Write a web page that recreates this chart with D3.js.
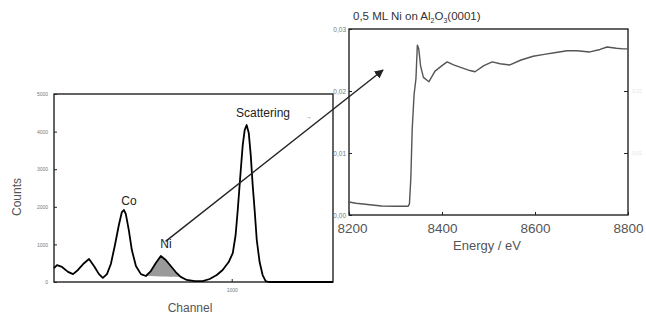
<!DOCTYPE html>
<html><head><meta charset="utf-8">
<script src="https://cdn.jsdelivr.net/npm/d3@7"></script>
<style>body{margin:0;background:#fff}svg{display:block}text{font-family:"Liberation Sans",Arial,sans-serif}</style>
</head><body><svg id="c" width="646" height="320"></svg>
<script>
// Left: PIXE/fluorescence spectrum (Channel vs Counts)
const channel = [0,17,45,79,107,135,169,197,225,253,275,298,320,343,365,382,393,404,421,438,461,489,517,545,573,601,629,657,685,713,747,792,837,876,916,949,983,1006,1022,1034,1051,1062,1073,1084,1096,1107,1118,1129,1141,1157,1174,1191,1208,1300,1400,1570];
const counts  = [370,450,400,270,210,320,500,610,425,210,110,210,480,985,1515,1860,1915,1810,1380,850,425,210,160,290,505,690,585,425,265,135,55,25,25,80,185,320,530,770,1250,1915,2980,3640,4040,4175,3960,3380,2580,1915,1117,530,185,25,0,0,0,0];
const niStart = 517, niEnd = 713;
const leftYTicks = [0,1000,2000,3000,4000,5000];
const leftXTicks = [1000];
// Right: XANES spectrum
const energy = [8200,8215,8240,8270,8300,8327,8330,8333,8336,8340,8344,8347,8350,8354,8360,8372,8385,8400,8411,8425,8440,8460,8471,8490,8508,8525,8546,8570,8596,8620,8645,8669,8690,8718,8740,8755,8775,8790,8800];
const absorb = [0.0021,0.0019,0.0017,0.00145,0.0014,0.0014,0.0018,0.006,0.014,0.0195,0.022,0.0274,0.0268,0.024,0.0222,0.0215,0.0232,0.0241,0.0247,0.0242,0.0238,0.0233,0.0231,0.0241,0.0247,0.0244,0.0242,0.025,0.0256,0.0259,0.0262,0.0265,0.0265,0.0263,0.0267,0.0271,0.0269,0.0268,0.0268];
const rightYTicks = [0,0.01,0.02,0.03];
const rightXTicks = [8200,8400,8600,8800];

const svg = d3.select("#c");
svg.append("rect").attr("width",646).attr("height",320).attr("fill","#fff");

// ----- Left chart -----
const lx = d3.scaleLinear().domain([0,1570]).range([54,333]);
const ly = d3.scaleLinear().domain([0,5000]).range([282,94]);
const L = svg.append("g");
// Ni shaded area
const niIdx = channel.map((c,i)=>i).filter(i=>channel[i]>=niStart && channel[i]<=niEnd);
const baseAt = c => 160 + (135-160)*(c-niStart)/(niEnd-niStart);
L.append("path")
  .datum(niIdx)
  .attr("d", d3.area().x(i=>lx(channel[i])).y0(i=>ly(baseAt(channel[i]))).y1(i=>ly(counts[i])))
  .attr("fill","#9a9a9a");
L.append("rect").attr("x",54).attr("y",94).attr("width",279).attr("height",188)
  .attr("fill","none").attr("stroke","#111").attr("stroke-width",1.3);
L.append("path").datum(channel.map((c,i)=>[c,counts[i]]))
  .attr("d", d3.line().x(d=>lx(d[0])).y(d=>ly(d[1])))
  .attr("fill","none").attr("stroke","#000").attr("stroke-width",1.8).attr("stroke-linejoin","round");
// y axis ticks
const lyAxis = d3.axisLeft(ly).tickValues(leftYTicks).tickSize(-3).tickPadding(6).tickFormat(d3.format("d"));
const gly = L.append("g").attr("transform","translate(54,0)").call(lyAxis);
gly.select(".domain").remove();
gly.selectAll("line").attr("stroke","#222");
gly.selectAll("text").attr("font-size",5).attr("fill","#777");
const lxAxis = d3.axisBottom(lx).tickValues(leftXTicks).tickSize(-3).tickPadding(6).tickFormat(d3.format("d"));
const glx = L.append("g").attr("transform","translate(0,282)").call(lxAxis);
glx.select(".domain").remove();
glx.selectAll("line").attr("stroke","#222");
glx.selectAll("text").attr("font-size",5).attr("fill","#777");
L.append("text").attr("transform","translate(21,197) rotate(-90)").attr("text-anchor","middle")
  .attr("font-size",12).attr("fill","#555").text("Counts");
L.append("text").attr("x",190).attr("y",312).attr("text-anchor","middle")
  .attr("font-size",12).attr("fill","#555").text("Channel");
L.append("text").attr("x",129).attr("y",205).attr("text-anchor","middle").attr("font-size",12).attr("fill","#222").text("Co");
L.append("text").attr("x",166).attr("y",248).attr("text-anchor","middle").attr("font-size",12).attr("fill","#222").text("Ni");
L.append("text").attr("x",236).attr("y",117).attr("font-size",12).attr("fill","#222").text("Scattering");
L.append("text").attr("x",306).attr("y",119).attr("font-size",6).attr("fill","#555").text("→");

// ----- Right chart -----
const rx = d3.scaleLinear().domain([8200,8800]).range([349,628]);
const ry = d3.scaleLinear().domain([0,0.03]).range([215,29]);
const R = svg.append("g");
R.append("rect").attr("x",349).attr("y",29).attr("width",279).attr("height",186)
  .attr("fill","none").attr("stroke","#111").attr("stroke-width",1.3);
R.append("path").datum(energy.map((e,i)=>[e,absorb[i]]))
  .attr("d", d3.line().x(d=>rx(d[0])).y(d=>ry(d[1])))
  .attr("fill","none").attr("stroke","#555").attr("stroke-width",1.4).attr("stroke-linejoin","round");
const fmt = d => d3.format(".2f")(d).replace(".",",");
const ryAxis = d3.axisLeft(ry).tickValues(rightYTicks).tickSize(-3).tickPadding(3).tickFormat(fmt);
const gry = R.append("g").attr("transform","translate(349,0)").call(ryAxis);
gry.select(".domain").remove();
gry.selectAll("line").attr("stroke","#222");
gry.selectAll("text").attr("font-size",6.5).attr("fill","#777");
const ryAxis2 = d3.axisRight(ry).tickValues([0.01,0.02]).tickSize(-4).tickPadding(4).tickFormat(fmt);
const gry2 = R.append("g").attr("transform","translate(628,0)").call(ryAxis2);
gry2.select(".domain").remove();
gry2.selectAll("line").attr("stroke","#222");
gry2.selectAll("text").attr("font-size",5).attr("fill","#e4e4e4");
const rxAxis = d3.axisBottom(rx).tickValues(rightXTicks).tickSize(-3).tickPadding(8).tickFormat(d3.format("d"));
const grx = R.append("g").attr("transform","translate(0,215)").call(rxAxis);
grx.select(".domain").remove();
grx.selectAll("line").attr("stroke","#222");
grx.selectAll("text").attr("font-size",13.5).attr("fill","#555");
grx.selectAll("text").filter(d=>d===8200).attr("dx",3);
R.append("text").attr("x",487).attr("y",250).attr("text-anchor","middle")
  .attr("font-size",13).attr("fill","#555").text("Energy / eV");
const t = R.append("text").attr("x",353).attr("y",20).attr("font-size",11.5).attr("fill","#333");
t.append("tspan").text("0,5 ML Ni on Al");
t.append("tspan").attr("font-size",7).attr("dy",3).text("2");
t.append("tspan").attr("dy",-3).text("O");
t.append("tspan").attr("font-size",7).attr("dy",3).text("3");
t.append("tspan").attr("dy",-3).text("(0001)");

// ----- Arrow -----
const defs = svg.append("defs");
defs.append("marker").attr("id","ah").attr("viewBox","0 0 10 10").attr("refX",9).attr("refY",5)
  .attr("markerWidth",9).attr("markerHeight",9).attr("markerUnits","userSpaceOnUse").attr("orient","auto")
  .append("path").attr("d","M0,0L10,5L0,10Z").attr("fill","#222");
svg.append("line").attr("x1",lx(628)).attr("y1",ly(1080)).attr("x2",383).attr("y2",70)
  .attr("stroke","#222").attr("stroke-width",1.4).attr("marker-end","url(#ah)");
</script></body></html>
